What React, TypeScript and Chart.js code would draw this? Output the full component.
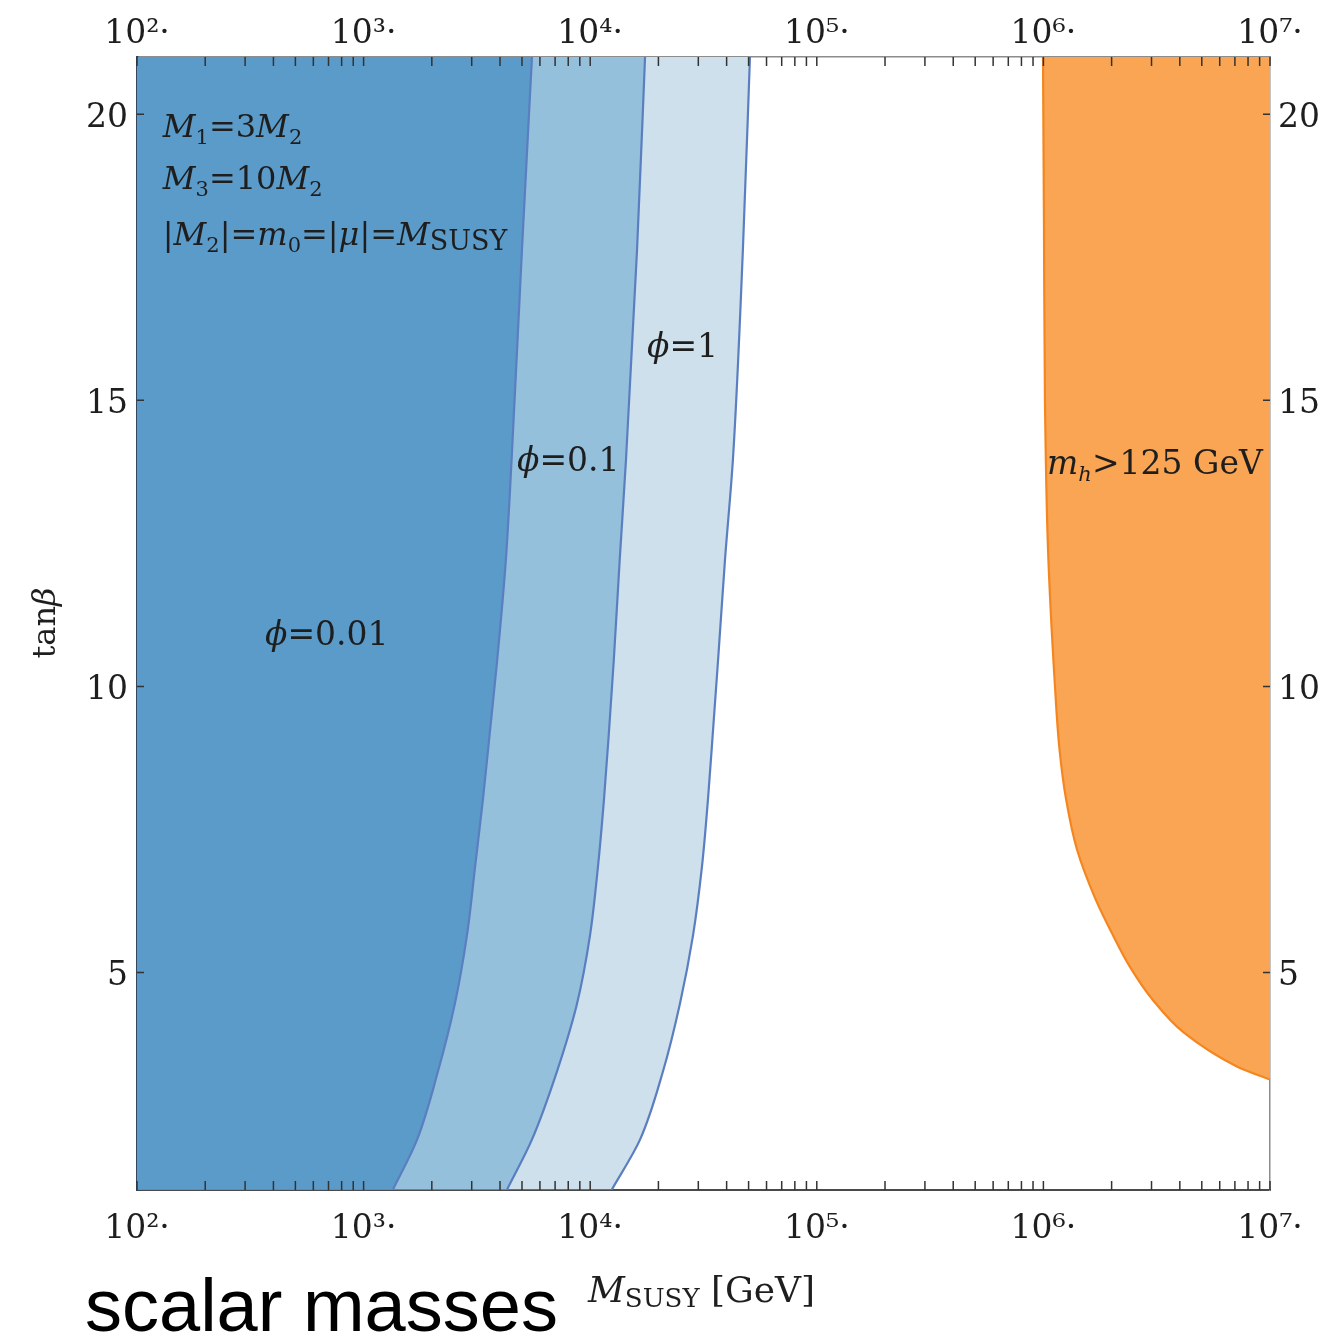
import React, { useEffect, useRef } from 'react';
import { Chart, registerables } from 'chart.js';

Chart.register(...registerables);

// tan(beta) sample points shared by the three phi contours
const tanBeta = [1.21, 2.08, 3.27, 4.46, 5.65, 6.85, 8.04, 9.23, 10.44, 12.22, 13.97, 17.64, 21.0];
// M_SUSY [GeV] of the contour for each phi value
const mSusyPhi001 = [1349, 1722, 2128, 2529, 2858, 3105, 3365, 3614, 3882, 4246, 4500, 5000, 5534];
const mSusyPhi01 = [4300, 5530, 7130, 8750, 9980, 10820, 11510, 12110, 12700, 13500, 14390, 16100, 17460];
const mSusyPhi1 = [12470, 16590, 20940, 24900, 28430, 31130, 33110, 34830, 36640, 39350, 42650, 47200, 50700];

// Higgs-mass boundary (m_h > 125 GeV to the right)
const tanBetaHiggs = [3.13, 3.36, 3.95, 4.53, 5.1, 5.7, 6.28, 7.15, 8.03, 8.9, 10.0, 12.4, 14.98, 17.99, 21.0];
const mSusyHiggs = [1.0e7, 7.14e6, 4.17e6, 3.03e6, 2.41e6, 2.0e6, 1.7e6, 1.407e6, 1.259e6, 1.178e6, 1.125e6, 1.048e6, 1.016e6, 1.006e6, 0.996e6];

// axes
const xMin = 100;
const xMax = 1e7;
const yMin = 1.2;
const yMax = 21;
const xMajorTicks = [1e2, 1e3, 1e4, 1e5, 1e6, 1e7];
const xTickLabels = ['10²·', '10³·', '10⁴·', '10⁵·', '10⁶·', '10⁷·'];
const xMinorMantissas = [2, 3, 4, 5, 6, 7, 8, 9];
const yTicks = [5, 10, 15, 20];

const SERIF = '"DejaVu Serif", serif';
const TEXT = '#1e1e1e';

type Run = [string, string, number?];

function drawRuns(ctx: CanvasRenderingContext2D, runs: Run[], x: number, y: number, align: 'left' | 'center' = 'left') {
  let w = 0;
  for (const [t, f] of runs) {
    ctx.font = f;
    w += ctx.measureText(t).width;
  }
  let cx = align === 'center' ? x - w / 2 : x;
  for (const [t, f, dy] of runs) {
    ctx.font = f;
    ctx.fillText(t, cx, y + (dy || 0));
    cx += ctx.measureText(t).width;
  }
}

export default function App() {
  const ref = useRef<HTMLCanvasElement>(null);

  useEffect(() => {
    const canvas = ref.current;
    if (!canvas) return;

    const IT = `italic 32px ${SERIF}`;
    const RM = `32px ${SERIF}`;
    const SB = `21px ${SERIF}`;
    const SC = `27px ${SERIF}`;
    const IT33 = `italic 33px ${SERIF}`;
    const RM33 = `33px ${SERIF}`;

    const annotations = {
      id: 'annotations',
      afterDatasetsDraw(chart: any) {
        const { ctx, scales } = chart;
        const xs = scales.x;
        const ys = scales.y;
        const px = (m: number) => xs.getPixelForValue(m);
        const py = (t: number) => ys.getPixelForValue(t);
        ctx.save();
        ctx.fillStyle = TEXT;
        ctx.textBaseline = 'alphabetic';
        ctx.textAlign = 'left';
        drawRuns(ctx, [['M', IT], ['1', SB, 7], ['=3', RM], ['M', IT], ['2', SB, 7]], px(130), py(19.6));
        drawRuns(ctx, [['M', IT], ['3', SB, 7], ['=10', RM], ['M', IT], ['2', SB, 7]], px(130), py(18.69));
        drawRuns(
          ctx,
          [['|', RM], ['M', IT], ['2', SB, 7], ['|=', RM], ['m', IT], ['0', SB, 7], ['=|', RM], ['μ', IT], ['|=', RM], ['M', IT], ['SUSY', SC, 5]],
          px(130),
          py(17.71)
        );
        drawRuns(ctx, [['ϕ', IT33], ['=0.01', RM33]], px(367), py(10.73));
        drawRuns(ctx, [['ϕ', IT33], ['=0.1', RM33]], px(4750), py(13.76));
        drawRuns(ctx, [['ϕ', IT33], ['=1', RM33]], px(17800), py(15.75));
        drawRuns(ctx, [['m', IT33], ['h', `italic 21px ${SERIF}`, 7], ['>125 GeV', RM33]], px(1.038e6), py(13.72));
        ctx.restore();
      },
    };

    const frame = {
      id: 'frame',
      afterDraw(chart: any) {
        const { ctx, chartArea: a, scales } = chart;
        const xs = scales.x;
        const ys = scales.y;
        ctx.save();
        ctx.strokeStyle = '#333';
        ctx.lineWidth = 1.5;
        ctx.beginPath();
        const xt: number[] = [];
        for (const m of xMajorTicks) {
          xt.push(m);
          for (const k of xMinorMantissas) if (m * k < xMax) xt.push(m * k);
        }
        for (const v of xt) {
          const p = xs.getPixelForValue(v);
          ctx.moveTo(p, a.bottom);
          ctx.lineTo(p, a.bottom - 9);
          ctx.moveTo(p, a.top);
          ctx.lineTo(p, a.top + 9);
        }
        for (const v of yTicks) {
          const p = ys.getPixelForValue(v);
          ctx.moveTo(a.left, p);
          ctx.lineTo(a.left + 7, p);
          ctx.moveTo(a.right, p);
          ctx.lineTo(a.right - 7, p);
        }
        ctx.stroke();

        // axis titles and caption
        ctx.fillStyle = TEXT;
        ctx.textBaseline = 'alphabetic';
        ctx.textAlign = 'left';
        drawRuns(ctx, [['M', `italic 36px ${SERIF}`], ['SUSY', `26px ${SERIF}`, 5], [' [GeV]', `36px ${SERIF}`]], 588, 1302);

        ctx.save();
        ctx.translate(55, 623);
        ctx.rotate(-Math.PI / 2);
        drawRuns(ctx, [['tan', `32px ${SERIF}`], ['β', `italic 32px ${SERIF}`]], 0, 0, 'center');
        ctx.restore();

        ctx.fillStyle = '#000';
        ctx.font = '74px "Liberation Sans", Arial, sans-serif';
        ctx.fillText('scalar masses', 85, 1331);
        ctx.restore();
      },
    };

    const curve = (xsArr: number[], ysArr: number[]) => ysArr.map((t, i) => ({ x: xsArr[i], y: t }));

    const tickFont = { family: SERIF, size: 33 };
    const xLabel = (v: any) => {
      const i = xMajorTicks.indexOf(Number(v));
      return i >= 0 ? xTickLabels[i] : '';
    };

    const xAxis = (position: 'top' | 'bottom', size: number, borderColor: string, borderWidth: number, padding: number) => ({
      type: 'logarithmic' as const,
      position,
      min: xMin,
      max: xMax,
      z: 1,
      afterBuildTicks: (s: any) => {
        s.ticks = xMajorTicks.map((v) => ({ value: v }));
      },
      afterFit: (s: any) => {
        s.height = size;
      },
      grid: { display: false, drawTicks: false },
      border: { display: true, color: borderColor, width: borderWidth },
      ticks: { callback: xLabel, font: tickFont, color: TEXT, padding, maxRotation: 0, autoSkip: false },
    });

    const yAxis = (position: 'left' | 'right', size: number, borderColor: string, borderWidth: number, padding: number) => ({
      type: 'linear' as const,
      position,
      min: yMin,
      max: yMax,
      z: 1,
      afterBuildTicks: (s: any) => {
        s.ticks = yTicks.map((v) => ({ value: v }));
      },
      afterFit: (s: any) => {
        s.width = size;
      },
      grid: { display: false, drawTicks: false },
      border: { display: true, color: borderColor, width: borderWidth },
      ticks: { font: tickFont, color: TEXT, padding, autoSkip: false, labelOffset: 4 },
    });

    const common = { pointRadius: 0, cubicInterpolationMode: 'monotone', borderWidth: 2.2 };

    const chart = new Chart(canvas, {
      type: 'line',
      data: {
        datasets: [
          { ...common, label: 'ϕ=0.01', data: curve(mSusyPhi001, tanBeta), borderColor: '#5a7ec0', backgroundColor: '#5b9bc9', fill: { value: xMin } },
          { ...common, label: 'ϕ=0.1', data: curve(mSusyPhi01, tanBeta), borderColor: '#5a7ec0', backgroundColor: '#94c0dc', fill: { value: xMin } },
          { ...common, label: 'ϕ=1', data: curve(mSusyPhi1, tanBeta), borderColor: '#5a7ec0', backgroundColor: '#cde0ec', fill: { value: xMin } },
          { ...common, label: 'm_h>125 GeV', data: curve(mSusyHiggs, tanBetaHiggs), borderColor: '#f5861f', backgroundColor: '#f9a553', fill: { value: xMax } },
        ],
      },
      options: {
        indexAxis: 'y',
        responsive: false,
        animation: false,
        layout: { padding: 0 },
        plugins: { legend: { display: false }, tooltip: { enabled: false } },
        scales: {
          x: xAxis('bottom', 149, '#4a4a4a', 2, 20),
          x2: xAxis('top', 57, '#8c8c8c', 1.5, 3),
          y: yAxis('left', 137, '#34455f', 2.5, 9),
          y2: yAxis('right', 64, '#8c8c8c', 1.5, 8),
        },
      },
      plugins: [annotations, frame],
    } as any);

    return () => chart.destroy();
  }, []);

  return (
    <div style={{ position: 'absolute', left: 0, top: 0, width: 1334, height: 1339, background: '#fff' }}>
      <canvas ref={ref} width={1334} height={1339} style={{ display: 'block' }} />
    </div>
  );
}
